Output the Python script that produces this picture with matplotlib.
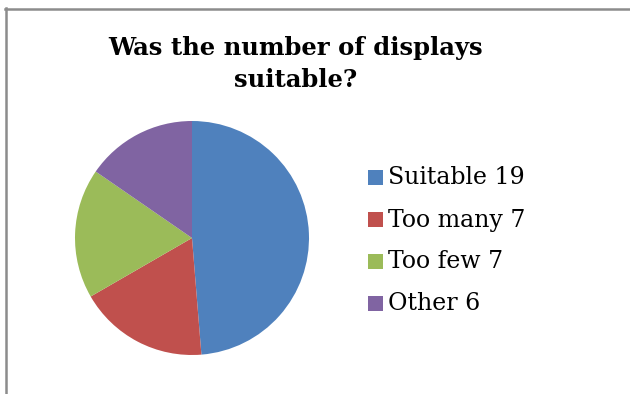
import matplotlib
matplotlib.use("Agg")
import matplotlib.pyplot as plt
from matplotlib.patches import Rectangle
from matplotlib.lines import Line2D

# Survey answers
labels = ["Suitable", "Too many", "Too few", "Other"]
counts = [19, 7, 7, 6]
colors = ["#4F81BD", "#C0504D", "#9BBB59", "#8064A2"]

W, H = 630, 394
fig = plt.figure(figsize=(W / 100, H / 100), dpi=100)
plt.rcParams["font.family"] = ["DejaVu Serif"]

# Gray chart frame (left and top edges visible)
fig.add_artist(Line2D([5.5 / W, 5.5 / W], [0, 1 - 8 / H], color="#8C8C8C", lw=1.8,
                      transform=fig.transFigure))
fig.add_artist(Line2D([5 / W, 1], [1 - 8.5 / H, 1 - 8.5 / H], color="#8C8C8C", lw=1.8,
                      transform=fig.transFigure))

fig.text(296 / W, 1 - 48 / H, "Was the number of displays", ha="center", va="center",
         fontsize=17.5, fontweight="bold")
fig.text(296 / W, 1 - 80 / H, "suitable?", ha="center", va="center",
         fontsize=17.5, fontweight="bold")

# Pie, starting at 12 o'clock and going clockwise
cx, cy, r = 192, 238, 117
ax = fig.add_axes([(cx - r) / W, (H - cy - r) / H, 2 * r / W, 2 * r / H])
ax.pie(counts, colors=colors, startangle=90, counterclock=False,
       wedgeprops={"linewidth": 0})
ax.set_xlim(-1, 1)
ax.set_ylim(-1, 1)
ax.set_aspect("equal")
ax.axis("off")

# Legend with square keys
for i, (lab, n, c) in enumerate(zip(labels, counts, colors)):
    y = 178 + i * 42
    fig.add_artist(Rectangle((368 / W, 1 - (y + 7) / H), 15 / W, 15 / H,
                             facecolor=c, edgecolor="none", transform=fig.transFigure))
    fig.text(388 / W, 1 - y / H, f"{lab} {n}", ha="left", va="center", fontsize=17)

fig.savefig("out.png", dpi=100)
